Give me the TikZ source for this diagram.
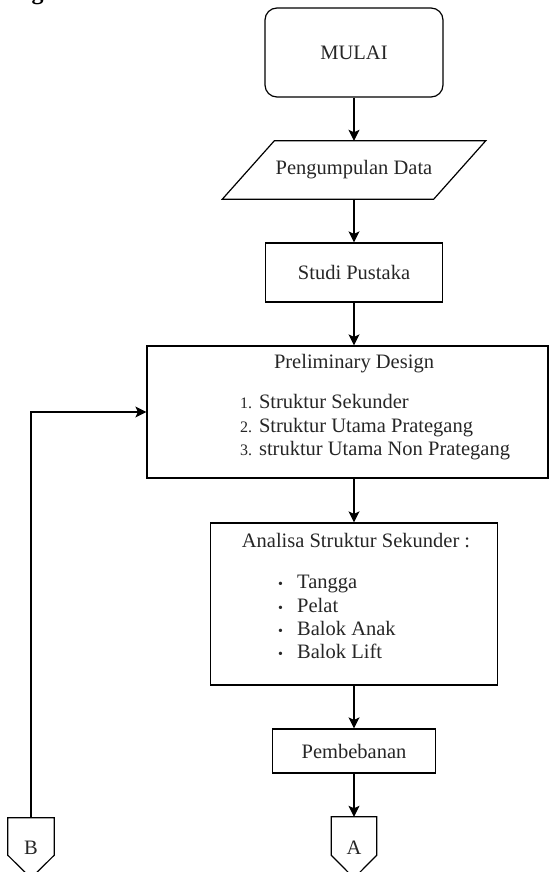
\documentclass[tikz,border=0pt]{standalone}
\usepackage{fontspec}
\setmainfont{LiberationSerif}[Extension=.ttf, UprightFont=*-Regular, BoldFont=*-Bold, ItalicFont=*-Italic, BoldItalicFont=*-BoldItalic]
\usetikzlibrary{arrows.meta}

\newcommand{\itemnum}[1]{{\fontsize{16}{18}\selectfont #1}}
\newcommand{\itemdot}{\makebox[19pt][l]{\fontsize{14}{15}\selectfont\textbullet}}

\tikzset{
  box/.style={draw, line width=1.2pt, inner sep=0pt},
  txt/.style={font=\fontsize{20.5}{24}\selectfont, text=black!85},
  arr/.style={line width=1.2pt, -{Stealth[length=11pt,width=11pt,inset=2.5pt]}},
}

\begin{document}
\begin{tikzpicture}[x=1pt,y=-1pt]
  \useasboundingbox (0,0) rectangle (552,872);
  \clip (0,0) rectangle (552,872);
  % Caption remnant
  \node[anchor=base, inner sep=0pt, font=\fontsize{24}{28}\selectfont\bfseries] (capg) at (37.5,0) {g};
  % Blocks
  \node[box, txt, rounded corners=12pt, minimum width=178pt, minimum height=89pt] (mulai) at (354,52.5) {MULAI};
  \node[txt, inner sep=0pt, minimum width=211pt, minimum height=58pt] (data) at (354,170) {Pengumpulan Data};
  \draw[line width=1.2pt] ([xshift=26pt]data.north west) -- ([xshift=26pt]data.north east)
    -- ([xshift=-26pt]data.south east) -- ([xshift=-26pt]data.south west) -- cycle;
  \node[box, txt, minimum width=177pt, minimum height=59pt] (studi) at (354,272.5) {Studi Pustaka};
  \node[box, minimum width=401pt, minimum height=132pt] (prelim) at (347.5,412) {};
  \node[box, minimum width=287pt, minimum height=162pt] (analisa) at (354,604) {};
  \node[box, txt, minimum width=163pt, minimum height=44pt] (pemb) at (354,751) {Pembebanan};
  % Box texts
  \node[txt, anchor=base, inner sep=0pt] (prelimT) at (354,368) {Preliminary Design};
  \node[txt, anchor=base west, inner sep=0pt] (pd1) at (240,408) {\itemnum{1.} Struktur Sekunder};
  \node[txt, anchor=base west, inner sep=0pt] (pd2) at (240,432) {\itemnum{2.} Struktur Utama Prategang};
  \node[txt, anchor=base west, inner sep=0pt] (pd3) at (240,455) {\itemnum{3.} struktur Utama Non Prategang};
  \node[txt, anchor=base, inner sep=0pt] (analisaT) at (356,547) {Analisa Struktur Sekunder :};
  \node[txt, anchor=base west, inner sep=0pt] (as1) at (278,588) {\itemdot Tangga};
  \node[txt, anchor=base west, inner sep=0pt] (as2) at (278,612) {\itemdot Pelat};
  \node[txt, anchor=base west, inner sep=0pt] (as3) at (278,635) {\itemdot Balok Anak};
  \node[txt, anchor=base west, inner sep=0pt] (as4) at (278,658) {\itemdot Balok Lift};
  % Off-page connectors
  \node[txt, inner sep=0pt, minimum width=45pt, minimum height=61pt] (conA) at (354,847.5) {A};
  \node[txt, inner sep=0pt, minimum width=46pt, minimum height=60pt] (conB) at (31,848) {B};
  \draw[line width=1.2pt] (conA.north west) -- (conA.north east) -- ([yshift=23pt]conA.south east)
    -- (conA.south) -- ([yshift=23pt]conA.south west) -- cycle;
  \draw[line width=1.2pt] (conB.north west) -- (conB.north east) -- ([yshift=23pt]conB.south east)
    -- (conB.south) -- ([yshift=23pt]conB.south west) -- cycle;
  % Arrows
  \draw[arr] (mulai) -- (data);
  \draw[arr] (data) -- (studi);
  \draw[arr] (studi) -- (studi |- prelim.north);
  \draw[arr] (prelim.south -| analisa.north) -- (analisa);
  \draw[arr] (analisa) -- (pemb);
  \draw[arr] (pemb) -- (conA);
  \draw[arr] (conB) |- (prelim);
\end{tikzpicture}
\end{document}
